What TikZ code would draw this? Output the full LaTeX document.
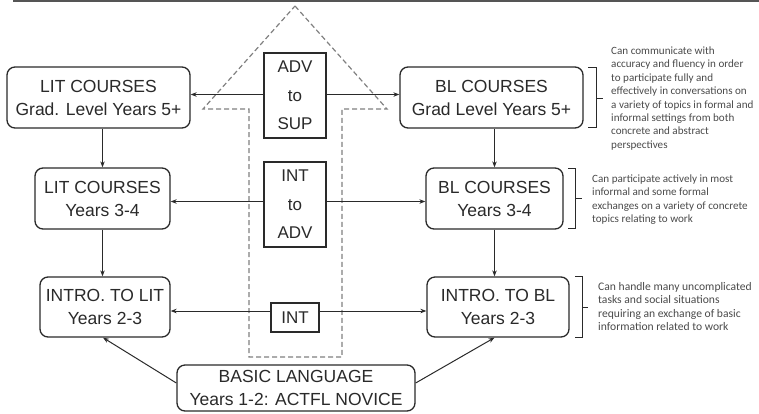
\documentclass[tikz,border=0pt]{standalone}
\usepackage{fontspec}
\usetikzlibrary{arrows.meta,calc}
\newfontfamily\arialf{Liberation Sans}
\newfontfamily\calf{Carlito}
\definecolor{linec}{HTML}{2A2A2A}
\definecolor{dashc}{HTML}{808080}
\definecolor{notec}{HTML}{4A4A4A}
\begin{document}
\begin{tikzpicture}[x=1pt,y=-1pt,
  box/.style={draw=linec, line width=1.3pt, rounded corners=8pt, fill=white,
    align=center, inner sep=0pt, text=linec,
    font=\arialf\fontsize{17.5}{23}\selectfont},
  sqbox/.style={draw=linec, line width=1.3pt, fill=white, align=center,
    inner sep=0pt, text=linec, font=\arialf\fontsize{17}{28.5}\selectfont},
  arr/.style={draw=linec, line width=1pt, -{Stealth[length=6pt,width=4.5pt]}},
  note/.style={anchor=west, align=left, inner sep=0pt, text=notec,
    font=\calf\fontsize{11.1}{13.4}\selectfont},
  brk/.style={draw=linec, line width=1pt},
  dasharrow/.style={draw=dashc, line width=1.2pt, dash pattern=on 5pt off 3pt}]
\useasboundingbox (0,0) rectangle (759,413);
\draw[draw=linec!80, line width=1.5pt] (13,1) -- (759,1);

% dashed big arrow
\draw[dasharrow] (295,6) -- (387,109) -- (342,109) -- (342,357) -- (249,357)
  -- (249,109) -- (203,109) -- cycle;

% boxes
\node[box, minimum width=183pt, minimum height=61pt] (lit1) at (98.5,97.5)
  {LIT COURSES\\Grad. Level Years 5+};
\node[box, minimum width=183pt, minimum height=61pt] (bl1) at (491.5,97.5)
  {BL COURSES\\Grad Level Years 5+};
\node[box, minimum width=135pt, minimum height=61pt] (lit2) at (102.5,198.5)
  {LIT COURSES\\Years 3-4};
\node[box, minimum width=137pt, minimum height=61pt] (bl2) at (494.5,198.5)
  {BL COURSES\\Years 3-4};
\node[box, minimum width=130pt, minimum height=60pt] (lit3) at (105,307)
  {INTRO. TO LIT\\Years 2-3};
\node[box, minimum width=142pt, minimum height=60pt] (bl3) at (498,307)
  {INTRO. TO BL\\Years 2-3};
\node[box, minimum width=238pt, minimum height=46pt] (basic) at (296,388)
  {BASIC LANGUAGE\\Years 1-2: ACTFL NOVICE};

\node[sqbox, minimum width=62pt, minimum height=85pt] (adv1) at (295,95.5)
  {ADV\\to\\SUP};
\node[sqbox, minimum width=62pt, minimum height=85pt] (adv2) at (295,204.5)
  {INT\\to\\ADV};
\node[sqbox, minimum width=48pt, minimum height=29pt] (int3) at (295,317.5)
  {INT};

% connector start points
\coordinate (a1w) at ([yshift=1pt]adv1.west);
\coordinate (a1e) at ([yshift=1pt]adv1.east);
\coordinate (a2w) at ([yshift=3pt]adv2.west);
\coordinate (a2e) at ([yshift=3pt]adv2.east);
\coordinate (i3w) at ([yshift=6.5pt]int3.west);
\coordinate (i3e) at ([yshift=6.5pt]int3.east);
\coordinate (bw) at ([yshift=5pt]basic.west);
\coordinate (be) at ([yshift=5pt]basic.east);

% horizontal arrows
\draw[arr] (a1w) -- (lit1.east |- a1w);
\draw[arr] (a1e) -- (bl1.west |- a1e);
\draw[arr] (a2w) -- (lit2.east |- a2w);
\draw[arr] (a2e) -- (bl2.west |- a2e);
\draw[arr] (i3w) -- (lit3.east |- i3w);
\draw[arr] (i3e) -- (bl3.west |- i3e);

% vertical arrows
\draw[arr] (lit2.north |- lit1.south) -- (lit2.north);
\draw[arr] (lit2.south) -- (lit2.south |- lit3.north);
\draw[arr] (bl2.north |- bl1.south) -- (bl2.north);
\draw[arr] (bl2.south) -- (bl2.south |- bl3.north);

% diagonal arrows
\draw[arr] (bw) -- ([xshift=-2pt]lit3.south);
\draw[arr] (be) -- (bl2.south |- bl3.south);

% brackets and notes
\draw[brk] (588,67) -- (596,67) -- (596,127) -- (588,127);
\draw[brk] (596,98) -- (603,98);
\node[note] (n1) at (611,98.5) {Can communicate with\\accuracy and fluency in order\\to participate fully and\\effectively in conversations on\\a variety of topics in formal and\\informal settings from both\\concrete and abstract\\perspectives};

\draw[brk] (568,168) -- (575,168) -- (575,228) -- (568,228);
\draw[brk] (575,198) -- (582,198);
\node[note] (n2) at (592,199.5) {Can participate actively in most\\informal and some formal\\exchanges on a variety of concrete\\topics relating to work};

\draw[brk] (575,276) -- (582,276) -- (582,337) -- (575,337);
\draw[brk] (582,307) -- (588,307);
\node[note, font=\calf\fontsize{11.6}{13.2}\selectfont] (n3) at (598,306.5) {Can handle many uncomplicated\\tasks and social situations\\requiring an exchange of basic\\information related to work};
\end{tikzpicture}
\end{document}
